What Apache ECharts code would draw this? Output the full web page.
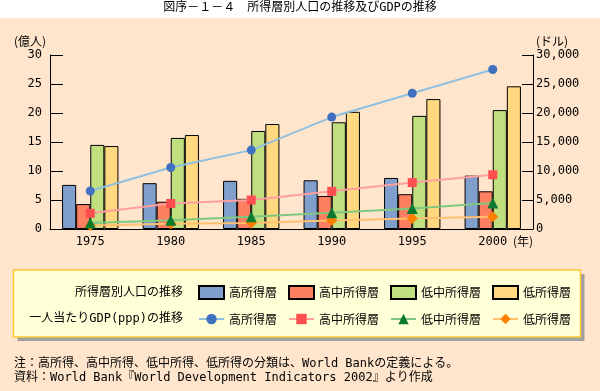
<!DOCTYPE html>
<html><head><meta charset="utf-8">
<script src="https://cdn.jsdelivr.net/npm/echarts@6/dist/echarts.min.js"></script>
<style>html,body{margin:0;padding:0;background:#FFE5CC;}#c{width:600px;height:391px;}</style>
</head><body><div id="c"></div>
<script>
const years = ['1975','1980','1985','1990','1995','2000'];
const groups = ['高所得層','高中所得層','低中所得層','低所得層'];
// population by income group (100 million people)
const popHigh  = [7.6, 7.9, 8.3, 8.4, 8.8, 9.2];
const popUpMid = [4.3, 4.7, 5.2, 5.7, 6.0, 6.5];
const popLoMid = [14.5, 15.7, 16.9, 18.4, 19.5, 20.5];
const popLow   = [14.3, 16.2, 18.1, 20.2, 22.4, 24.6];
// GDP per capita (ppp, dollars)
const gdpHigh  = [6550, 10600, 13600, 19300, 23400, 27500];
const gdpUpMid = [2700, 4400, 5000, 6500, 8000, 9350];
const gdpLoMid = [1050, 1500, 2100, 2800, 3550, 4500];
const gdpLow   = [600, 900, 1050, 1450, 1800, 2100];
const leftTicks = {min: 0, max: 30, interval: 5};
const rightTicks = {min: 0, max: 30000, interval: 5000};

const JP = '"Noto Sans CJK JP", sans-serif';
const MIX = '"DejaVu Sans Mono", "Noto Sans CJK JP", monospace';
const NUM = '"DejaVu Sans Mono", monospace';

const barColors = ['#809FCC', '#FF8060', '#C0E080', '#FFD880'];
const lineColors = ['#90C0E0', '#FF9F9F', '#80C880', '#FFC070'];
const markColors = ['#4070C0', '#FF4F50', '#0A7A30', '#FF8000'];
const symbols = ['circle', 'rect', 'triangle', 'diamond'];
const popData = [popHigh, popUpMid, popLoMid, popLow];
const gdpData = [gdpHigh, gdpUpMid, gdpLoMid, gdpLow];

const series = [];
groups.forEach((g, i) => {
  series.push({
    name: g, type: 'bar', yAxisIndex: 0, xAxisIndex: 0,
    data: popData[i], barGap: '0%', barCategoryGap: '30%',
    itemStyle: {color: barColors[i], borderColor: '#000', borderWidth: 1},
    emphasis: {disabled: true}, z: 2
  });
});
const lineZ = [5, 6, 8, 7];
groups.forEach((g, i) => {
  series.push({
    name: 'GDP:' + g, type: 'line', yAxisIndex: 1, xAxisIndex: 0,
    data: gdpData[i], symbol: symbols[i], symbolSize: i >= 2 ? 11 : 9,
    lineStyle: {color: lineColors[i], width: 2},
    itemStyle: {color: markColors[i]},
    emphasis: {disabled: true}, z: lineZ[i]
  });
});

const chart = echarts.init(document.getElementById('c'), null, {renderer: 'canvas'});
chart.setOption({
  backgroundColor: '#FFE5CC',
  animation: false,
  textStyle: {fontFamily: JP},
  grid: {left: 50, right: 67, top: 55, bottom: 162, containLabel: false},
  xAxis: [{
    type: 'category', data: years, boundaryGap: true,
    axisLine: {lineStyle: {color: '#000', width: 1}},
    axisTick: {inside: true, length: 7, lineStyle: {color: '#000'}},
    axisLabel: {color: '#000', fontFamily: NUM, fontSize: 12, margin: 7}
  }],
  yAxis: [{
    type: 'value', position: 'left', min: leftTicks.min, max: leftTicks.max, interval: leftTicks.interval,
    name: '(億人)', nameLocation: 'end', nameGap: 8,
    nameTextStyle: {color: '#000', fontFamily: JP, fontSize: 12, align: 'right', verticalAlign: 'bottom', padding: [0, 4, 0, 0]},
    axisLine: {show: true, lineStyle: {color: '#000', width: 1}},
    axisTick: {show: true, inside: true, length: 13, lineStyle: {color: '#000'}},
    axisLabel: {color: '#000', fontFamily: NUM, fontSize: 12, margin: 8},
    splitLine: {show: false}
  }, {
    type: 'value', position: 'right', min: rightTicks.min, max: rightTicks.max, interval: rightTicks.interval,
    name: '(ドル)', nameLocation: 'end', nameGap: 8,
    nameTextStyle: {color: '#000', fontFamily: JP, fontSize: 12, align: 'left', verticalAlign: 'bottom', padding: [0, 0, 0, 3]},
    axisLine: {show: true, lineStyle: {color: '#000', width: 1}},
    axisTick: {show: true, inside: true, length: 11, lineStyle: {color: '#000'}},
    axisLabel: {color: '#000', fontFamily: NUM, fontSize: 12, margin: 3,
      formatter: v => v.toLocaleString('en-US')},
    splitLine: {show: false}
  }],
  legend: [{
    data: groups.map(g => ({name: g, icon: 'rect'})), left: 198, top: 285, orient: 'horizontal', padding: 0,
    itemWidth: 25, itemHeight: 13, itemGap: 11, selectedMode: false,
    textStyle: {color: '#000', fontFamily: JP, fontSize: 12}
  }, {
    data: groups.map(g => 'GDP:' + g), left: 198, top: 313, orient: 'horizontal', padding: 0,
    itemWidth: 25, itemHeight: 13, itemGap: 11, selectedMode: false,
    formatter: n => n.replace('GDP:', ''),
    textStyle: {color: '#000', fontFamily: JP, fontSize: 12}
  }],
  graphic: [
    {type: 'rect', z: -10, shape: {x: 0, y: 0, width: 600, height: 18}, style: {fill: '#FFFFFF'}},
    {type: 'text', left: 'center', top: 2, z: 10,
      style: {text: '図序－１－４　所得層別人口の推移及びGDPの推移', font: '12px ' + MIX, fill: '#000'}},
    {type: 'rect', z: -5, shape: {x: 17.5, y: 274, width: 567, height: 67}, style: {fill: '#A0A0A0'}},
    {type: 'rect', z: -4, shape: {x: 13.5, y: 270, width: 567, height: 67},
      style: {fill: '#FFFFD8', stroke: '#FFC830', lineWidth: 1.5}},
    {type: 'text', x: 183, y: 291, z: 10,
      style: {text: '所得層別人口の推移', font: '12px ' + JP, fill: '#000', align: 'right', verticalAlign: 'middle'}},
    {type: 'text', x: 183, y: 319, z: 10,
      style: {text: '一人当たりGDP(ppp)の推移', font: '12px ' + MIX, fill: '#000', align: 'right', verticalAlign: 'middle'}},
    {type: 'text', x: 513, y: 241, z: 10,
      style: {text: '(年)', font: '12px ' + JP, fill: '#000', align: 'left', verticalAlign: 'middle'}},
    {type: 'text', x: 14, y: 364, z: 10,
      style: {text: '注：高所得、高中所得、低中所得、低所得の分類は、World Bankの定義による。', font: '12px ' + MIX, fill: '#000', verticalAlign: 'middle'}},
    {type: 'text', x: 14, y: 378, z: 10,
      style: {text: '資料：World Bank『World Development Indicators 2002』より作成', font: '12px ' + MIX, fill: '#000', verticalAlign: 'middle'}}
  ],
  series: series
});
</script>
</body></html>
